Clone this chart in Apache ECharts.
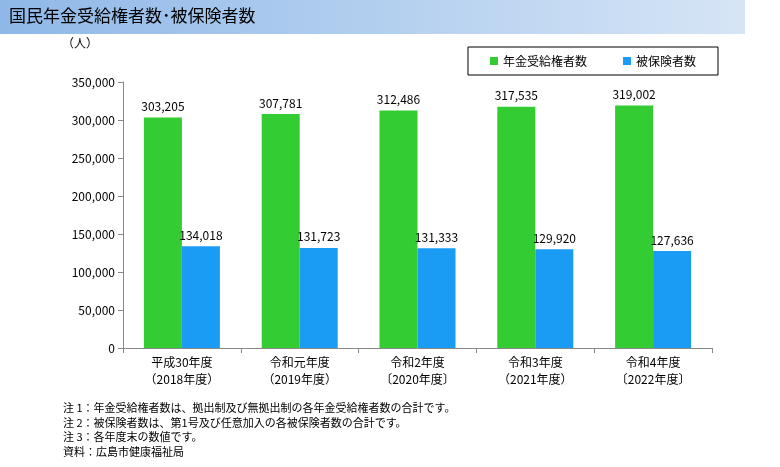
<!DOCTYPE html>
<html><head><meta charset="utf-8">
<script src="https://cdn.jsdelivr.net/npm/echarts@6/dist/echarts.min.js"></script>
<style>html,body{margin:0;padding:0;background:#fff}#c{width:780px;height:467px}</style>
</head><body><div id="c"></div>
<script>
const categories = ['平成30年度\n（2018年度）','令和元年度\n（2019年度）','令和2年度\n〔2020年度〕','令和3年度\n（2021年度）','令和4年度\n〔2022年度〕'];
const recipients = [303205, 307781, 312486, 317535, 319002];
const insured = [134018, 131723, 131333, 129920, 127636];
const seriesNames = ['年金受給権者数','被保険者数'];
const notes = ['注 1：年金受給権者数は、拠出制及び無拠出制の各年金受給権者数の合計です。','注 2：被保険者数は、第1号及び任意加入の各被保険者数の合計です。','注 3：各年度末の数値です。','資料：広島市健康福祉局'];
const F = '"Noto Sans CJK JP", sans-serif';
const chart = echarts.init(document.getElementById('c'));
const lbl = {show:true, position:'top', color:'#000', fontSize:12, fontFamily:F, formatter:p=>p.value.toLocaleString('en-US')};
chart.setOption({
  animation:false,
  grid:{left:123,right:68,top:82,bottom:119},
  legend:{right:62,top:47,itemWidth:8,itemHeight:8,itemGap:36,padding:[8,22],borderColor:'#000',borderWidth:1,
    textStyle:{fontFamily:F,fontSize:12,color:'#000'},data:seriesNames.map(n=>({name:n,icon:'rect'}))},
  xAxis:{type:'category',data:categories,axisLine:{lineStyle:{color:'#888'}},axisTick:{show:true,length:5,lineStyle:{color:'#888'}},
    axisLabel:{color:'#000',fontSize:12,fontFamily:F,lineHeight:17,margin:6}},
  yAxis:{type:'value',min:0,max:350000,interval:50000,splitLine:{show:false},
    axisLine:{show:true,lineStyle:{color:'#888'}},axisTick:{show:true,lineStyle:{color:'#888'}},
    axisLabel:{color:'#000',fontSize:12,fontFamily:F,formatter:v=>v.toLocaleString('en-US')}},
  series:[
    {name:seriesNames[0],type:'bar',data:recipients,barWidth:38,barGap:'0%',itemStyle:{color:'#33cc33'},label:lbl},
    {name:seriesNames[1],type:'bar',data:insured,barWidth:38,itemStyle:{color:'#1a9cf5'},label:lbl}
  ],
  graphic:[
    {type:'rect',left:0,top:0,shape:{width:745,height:34},style:{fill:new echarts.graphic.LinearGradient(0,0,1,0,[{offset:0,color:'#8fb8e8'},{offset:1,color:'#d6e5f6'}])}},
    {type:'text',left:9,top:7,style:{text:'国民年金受給権者数･被保険者数',fontSize:17,fontFamily:F,fill:'#000'}},
    {type:'text',left:62,top:37,style:{text:'（人）',fontSize:12,fontFamily:F,fill:'#000'}},
    {type:'text',left:63,top:401,style:{text:notes.join('\n'),fontSize:11,lineHeight:14.5,fontFamily:F,fill:'#000'}}
  ]
});
</script></body></html>
